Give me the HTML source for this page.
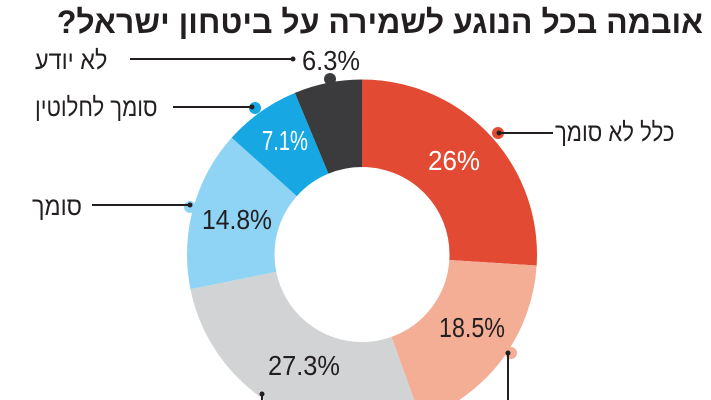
<!DOCTYPE html>
<html><head><meta charset="utf-8"><style>
html,body{margin:0;padding:0;background:#fff;}
body{width:711px;height:400px;position:relative;overflow:hidden;font-family:"Liberation Sans","Noto Sans CJK SC",sans-serif;}
.t{position:absolute;direction:rtl;white-space:nowrap;color:#231f20;transform-origin:left center;}
</style></head><body>
<svg width="711" height="400" style="position:absolute;left:0;top:0">
<g transform="rotate(-90 362 254.5)" fill="none" stroke-width="87.5">
<circle cx="362" cy="254.5" r="131.25" stroke="#e34a33" stroke-dasharray="214.41 1000" stroke-dashoffset="0"/>
<circle cx="362" cy="254.5" r="131.25" stroke="#f3ae95" stroke-dasharray="152.56 1000" stroke-dashoffset="-214.41"/>
<circle cx="362" cy="254.5" r="131.25" stroke="#d1d3d4" stroke-dasharray="225.13 1000" stroke-dashoffset="-366.97"/>
<circle cx="362" cy="254.5" r="131.25" stroke="#8fd4f4" stroke-dasharray="122.05 1000" stroke-dashoffset="-592.10"/>
<circle cx="362" cy="254.5" r="131.25" stroke="#17a8e3" stroke-dasharray="58.55 1000" stroke-dashoffset="-714.15"/>
<circle cx="362" cy="254.5" r="131.25" stroke="#3b3a3c" stroke-dasharray="51.97 1000" stroke-dashoffset="-772.70"/>
</g>
<circle cx="330" cy="79" r="6" fill="#3b3a3c"/>
<circle cx="255" cy="108" r="6" fill="#17a8e3"/>
<circle cx="498" cy="133" r="6" fill="#e34a33"/>
<circle cx="190" cy="207" r="6" fill="#8fd4f4"/>
<circle cx="511" cy="353" r="6" fill="#f3ae95"/>
<g stroke="#231f20" stroke-width="2">
<line x1="130" y1="59" x2="293" y2="59"/>
<line x1="173" y1="107" x2="252" y2="107"/>
<line x1="499" y1="133" x2="553" y2="133"/>
<line x1="92" y1="205" x2="190" y2="205"/>
<line x1="508" y1="353" x2="508" y2="400"/>
<line x1="262" y1="394" x2="262" y2="400"/>
</g>
<g fill="#231f20"><circle cx="293" cy="59" r="2.5"/><circle cx="252" cy="107" r="2.5"/><circle cx="499" cy="133" r="2.5"/><circle cx="190" cy="205" r="2.5"/><circle cx="508" cy="353" r="2.5"/><circle cx="262" cy="394" r="2.5"/></g>
<g font-family="Liberation Sans,sans-serif" font-size="28">
<text x="302" y="70" fill="#231f20" textLength="58" lengthAdjust="spacingAndGlyphs">6.3%</text>
<text x="262" y="150" fill="#fff" textLength="46" lengthAdjust="spacingAndGlyphs">7.1%</text>
<text x="428" y="170" fill="#fff" textLength="52" lengthAdjust="spacingAndGlyphs">26%</text>
<text x="202" y="229" fill="#231f20" textLength="70" lengthAdjust="spacingAndGlyphs">14.8%</text>
<text x="439" y="337" fill="#231f20" textLength="66" lengthAdjust="spacingAndGlyphs">18.5%</text>
<text x="268" y="375" fill="#231f20" textLength="72" lengthAdjust="spacingAndGlyphs">27.3%</text>
</g>
</svg>
<div class="t" style="right:8px;top:4px;font-size:32px;font-weight:bold;line-height:36px;">אובמה בכל הנוגע לשמירה על ביטחון ישראל?</div>
<div class="t" style="left:35px;top:45px;font-size:26px;line-height:30px;transform:scaleX(0.9);">לא יודע</div>
<div class="t" style="left:35px;top:92px;font-size:26px;line-height:30px;transform:scaleX(0.85);">סומך לחלוטין</div>
<div class="t" style="left:555px;top:117px;font-size:26px;line-height:30px;transform:scaleX(0.85);">כלל לא סומך</div>
<div class="t" style="left:32px;top:191px;font-size:26px;line-height:30px;transform:scaleX(0.9);">סומך</div>
</body></html>
